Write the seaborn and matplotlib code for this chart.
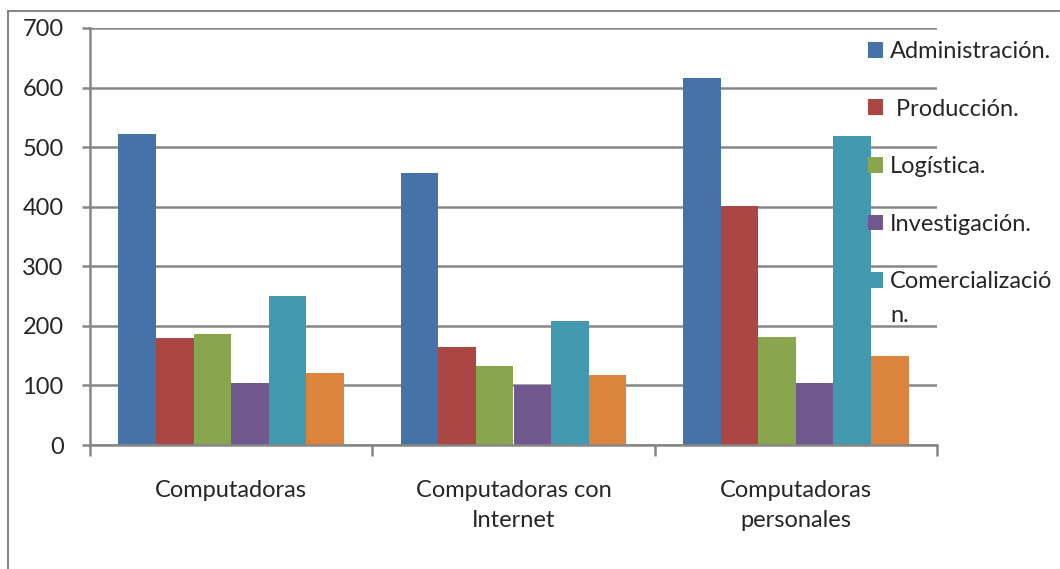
import matplotlib
matplotlib.use("Agg")
import matplotlib.pyplot as plt
import seaborn as sns
import pandas as pd
from matplotlib.patches import Patch, Rectangle

# Datos
tipos = ["Computadoras", "Computadoras con\nInternet", "Computadoras\npersonales"]
areas = ["Administración.", " Producción.", "Logística.", "Investigación.",
         "Comercializació", "Otros."]
administracion = [522, 456, 616]
produccion = [180, 164, 401]
logistica = [186, 133, 181]
investigacion = [104, 101, 104]
comercializacion = [250, 208, 518]
otros = [121, 117, 149]
colores = ["#4572A7", "#AA4643", "#89A54E", "#71588F", "#4198AF", "#DB843D"]
yticks = [0, 100, 200, 300, 400, 500, 600, 700]

series = [administracion, produccion, logistica, investigacion, comercializacion, otros]
rows = []
for area, vals in zip(areas, series):
    for t, v in zip(tipos, vals):
        rows.append({"tipo": t, "area": area, "valor": v})
df = pd.DataFrame(rows)

sns.set_style("white")
plt.rcParams["font.family"] = ["Lato", "DejaVu Sans"]
FS = 17

fig = plt.figure(figsize=(10.6, 5.69), dpi=100)
ax = fig.add_axes([90 / 1060, 1 - 445 / 569, 847 / 1060, 417 / 569])

sns.barplot(data=df, x="tipo", y="valor", hue="area", palette=colores,
            hue_order=areas, order=tipos, width=0.8, saturation=1, legend=False,
            linewidth=0, ax=ax)

gris = "#868686"
ax.set_ylim(0, 700)
ax.set_xlim(-0.5, 2.5)
ax.set_yticks(yticks)
ax.yaxis.grid(True, color=gris, linewidth=1.8)
ax.set_axisbelow(True)
ax.set_xlabel("")
ax.set_ylabel("")
for s in ["top", "right"]:
    ax.spines[s].set_visible(False)
for s in ["left", "bottom"]:
    ax.spines[s].set_color(gris)
    ax.spines[s].set_linewidth(1.8)
ax.tick_params(axis="y", length=6, width=1.8, color=gris, labelsize=FS, pad=13,
               direction="out", left=True)
ax.tick_params(axis="x", which="major", length=0, labelsize=FS, pad=25)
for lbl in ax.get_xticklabels():
    lbl.set_linespacing(1.55)
ax.set_xticks([-0.5, 0.5, 1.5, 2.5], minor=True)
ax.tick_params(axis="x", which="minor", length=8, width=1.8, color=gris, direction="out",
               bottom=True)

handles = [Patch(facecolor=c, edgecolor="none") for c in colores[:5]]
leg = fig.legend(handles, areas[:5], loc="upper left",
                 bbox_to_anchor=(868 / 1060, 1 - 41 / 569), frameon=False,
                 fontsize=FS, handlelength=0.64, handleheight=0.64,
                 handletextpad=0.3, labelspacing=1.55, borderaxespad=0,
                 borderpad=0)

# la última etiqueta de la leyenda se corta en dos líneas
fig.canvas.draw()
bb = leg.get_texts()[-1].get_window_extent().transformed(fig.transFigure.inverted())
fig.text(bb.x0, bb.y0 - 34 / 569, "n.", fontsize=FS, va="bottom", ha="left")

fig.add_artist(Rectangle((8 / 1060, -0.02), 1.05, 1 - 11 / 569 + 0.02,
                         transform=fig.transFigure, fill=False,
                         edgecolor=gris, linewidth=1.5))

fig.savefig("out.png", dpi=100)
